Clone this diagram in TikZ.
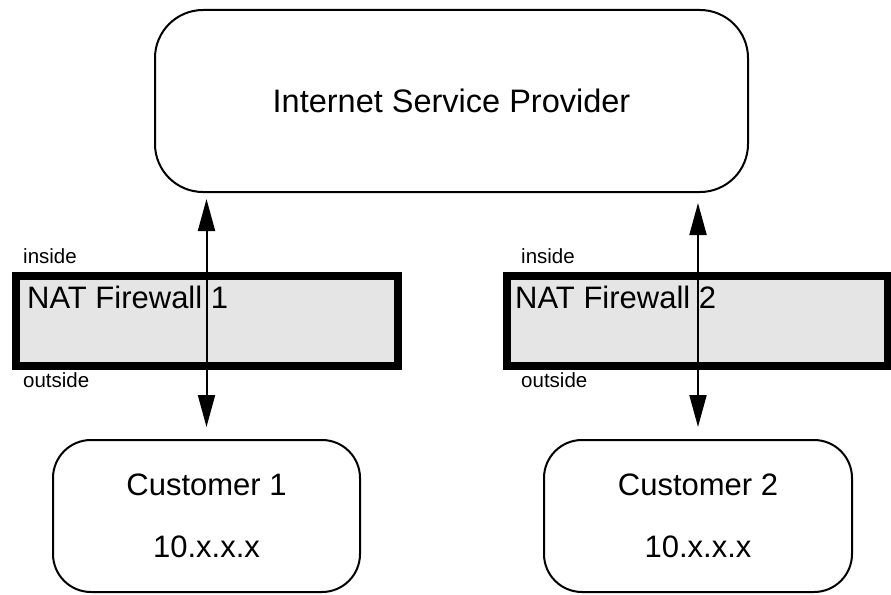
\documentclass[tikz,border=0pt]{standalone}
\usepackage{fontspec}
\setmainfont{Liberation Sans}
\usetikzlibrary{arrows.meta}
\definecolor{fwgray}{RGB}{229,229,229}
\begin{document}
\begin{tikzpicture}[x=1pt,y=-1pt,
  cloudbox/.style={draw,line width=2pt,rounded corners=#1,inner sep=0pt},
  fwbox/.style={draw,line width=8pt,fill=fwgray,inner sep=0pt},
  bigtxt/.style={font=\fontsize{31}{62}\selectfont},
  smalltxt/.style={font=\fontsize{20.5}{24}\selectfont,inner sep=0pt,anchor=base west},
  fwtxt/.style={font=\fontsize{31}{36}\selectfont,inner sep=0pt,anchor=base west},
  dbl/.style={line width=2pt,{Triangle[length=32pt,width=17pt]}-{Triangle[length=32pt,width=17pt]}}]
\useasboundingbox (0,0) rectangle (891,594);

\node[cloudbox=48pt,minimum width=593pt,minimum height=182pt,font=\fontsize{32.5}{38}\selectfont] (isp) at (451.5,101) {Internet Service Provider};

\node[fwbox,minimum width=382pt,minimum height=90pt] (fw1) at (207,320.5) {};
\node[fwbox,minimum width=381pt,minimum height=90pt] (fw2) at (697.5,320.5) {};

\node[fwtxt] (fw1t) at (27,308) {NAT Firewall 1};
\node[fwtxt] (fw2t) at (515,308) {NAT Firewall 2};

\node[smalltxt] (in1) at (23,263) {inside};
\node[smalltxt] (out1) at (23,387) {outside};
\node[smalltxt] (in2) at (521,263) {inside};
\node[smalltxt] (out2) at (521,387) {outside};

\node[cloudbox=38pt,minimum width=307pt,minimum height=152pt,bigtxt,align=center] (c1) at (206.5,516) {Customer 1\\10.x.x.x};
\node[cloudbox=38pt,minimum width=308pt,minimum height=152pt,bigtxt,align=center] (c2) at (698,516) {Customer 2\\10.x.x.x};

\draw[dbl] ([yshift=-6pt]isp.south -| c1.north) -- ([yshift=12pt]c1.north);
\draw[dbl] ([yshift=-10pt]isp.south -| c2.north) -- ([yshift=12pt]c2.north);
\end{tikzpicture}
\end{document}
